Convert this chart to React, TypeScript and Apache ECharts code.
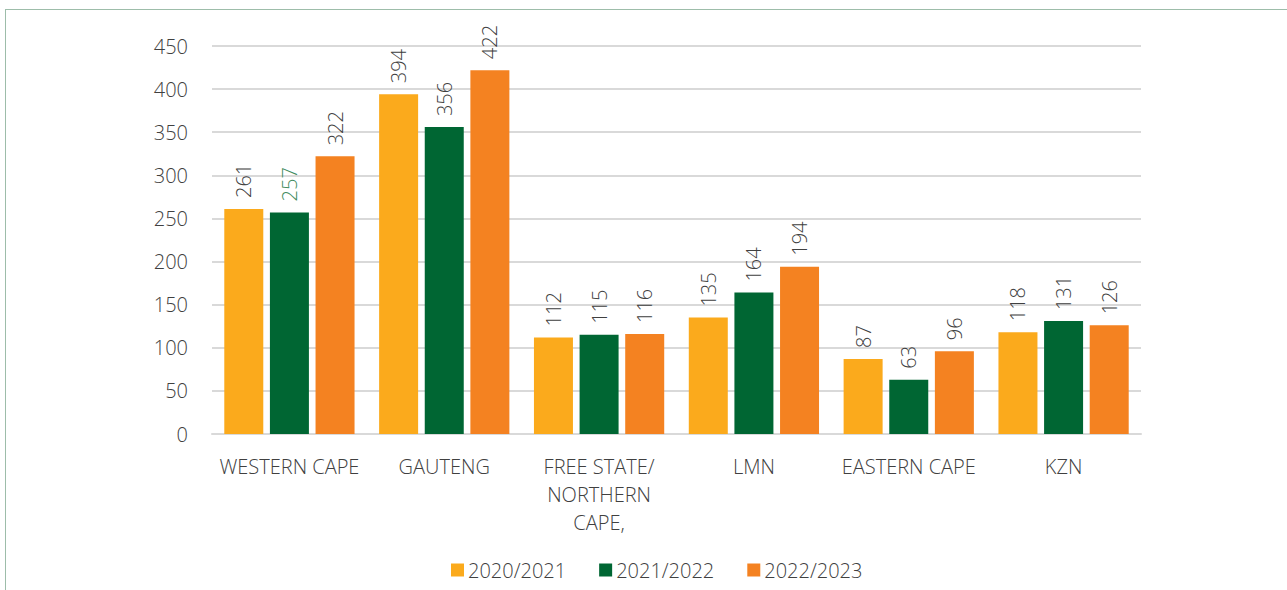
import React, { useEffect, useRef } from "react";
import * as echarts from "echarts";

const categories = ["WESTERN CAPE", "GAUTENG", "FREE STATE/\nNORTHERN\nCAPE,", "LMN", "EASTERN CAPE", "KZN"];
const seriesNames = ["2020/2021", "2021/2022", "2022/2023"];
const values2020 = [261, 394, 112, 135, 87, 118];
const values2021 = [257, 356, 115, 164, 63, 131];
const values2022 = [322, 422, 116, 194, 96, 126];
const colors = ["#FBAA1C", "#006633", "#F48221"];
const yTicks = { min: 0, max: 450, interval: 50 };

const FONT = "'Open Sans', 'Noto Sans', sans-serif";
const TEXT = "#404040";
const FS = 20;
const FW = 300;

export default function App() {
  const ref = useRef<HTMLDivElement>(null);
  useEffect(() => {
    if (!ref.current) return;
    const chart = echarts.init(ref.current, undefined, { renderer: "svg" });
    const all = [values2020, values2021, values2022];
    const series = all.map((vals, si) => ({
      name: seriesNames[si],
      type: "bar",
      barWidth: 39,
      barGap: "17%",
      itemStyle: { color: colors[si] },
      data: vals.map((v, ci) => {
        const d: any = { value: v };
        if (si === 1 && ci === 0) d.label = { color: "#3E8A5C" };
        return d;
      }),
      label: {
        show: true,
        position: "top",
        rotate: 90,
        align: "left",
        verticalAlign: "middle",
        distance: 11,
        color: TEXT,
        fontSize: FS,
        fontWeight: FW,
        fontFamily: FONT,
      },
    }));
    chart.setOption({
      animation: false,
      textStyle: { fontFamily: FONT },
      grid: { left: 212, right: 146, top: 46, bottom: 156 },
      legend: {
        data: seriesNames,
        bottom: 5,
        left: 446,
        icon: "rect",
        itemWidth: 13,
        itemHeight: 13,
        itemGap: 33,
        textStyle: { color: TEXT, fontSize: FS, fontWeight: FW, fontFamily: FONT, padding: [0, 0, 0, -1] },
      },
      xAxis: {
        type: "category",
        data: categories,
        axisLine: { lineStyle: { color: "#D9D9D9", width: 2 } },
        axisTick: { show: false },
        axisLabel: {
          color: TEXT,
          fontSize: FS,
          fontWeight: FW,
          fontFamily: FONT,
          margin: 18,
          lineHeight: 28,
          interval: 0,
        },
      },
      yAxis: {
        type: "value",
        min: yTicks.min,
        max: yTicks.max,
        interval: yTicks.interval,
        axisLine: { show: false },
        axisTick: { show: false },
        splitLine: { lineStyle: { color: "#D9D9D9", width: 2 } },
        axisLabel: { color: TEXT, fontSize: FS, fontWeight: FW, fontFamily: FONT, margin: 24 },
      },
      graphic: [
        { type: "line", shape: { x1: 5, y1: 9.5, x2: 1287, y2: 9.5 }, style: { stroke: "#9DBDAA", lineWidth: 1 } },
        { type: "line", shape: { x1: 5.5, y1: 9, x2: 5.5, y2: 590 }, style: { stroke: "#9DBDAA", lineWidth: 1 } },
      ],
      series,
    });
    return () => chart.dispose();
  }, []);
  return (
    <div
      ref={ref}
      style={{ position: "fixed", left: 0, top: 0, width: 1287, height: 590, background: "#fff" }}
    />
  );
}
